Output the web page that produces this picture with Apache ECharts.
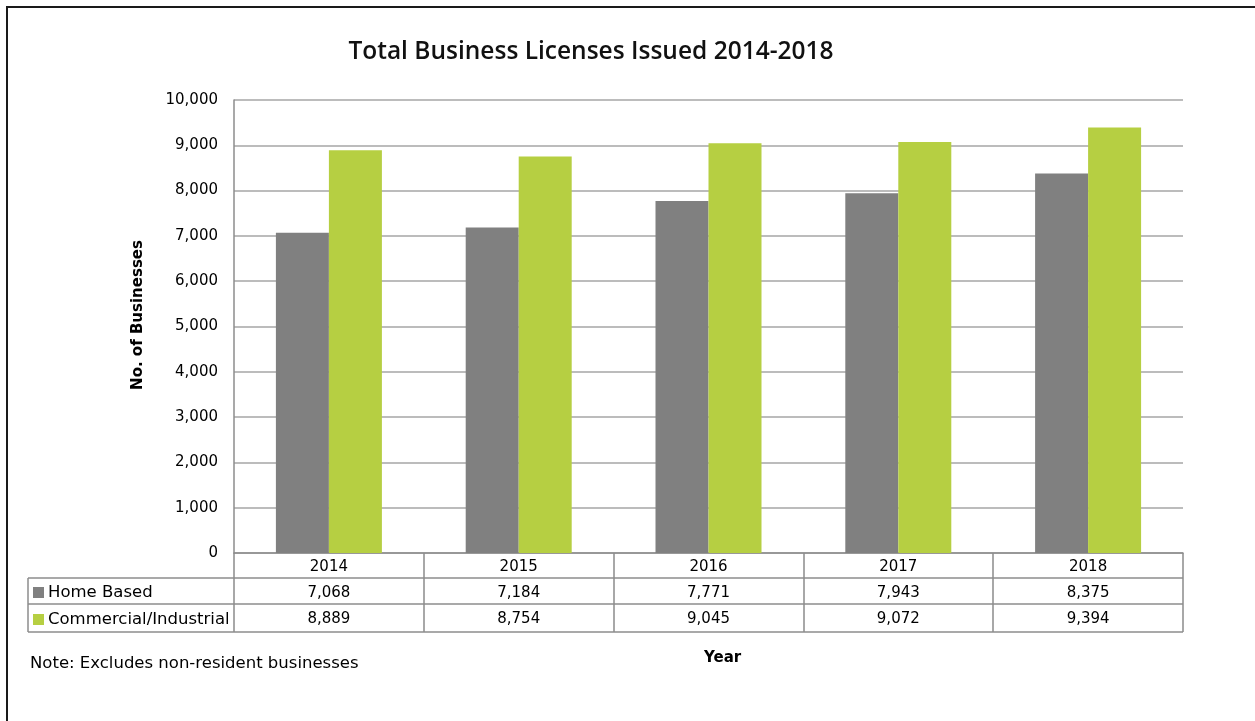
<!DOCTYPE html>
<html>
<head>
<meta charset="utf-8">
<title>Total Business Licenses Issued 2014-2018</title>
<script src="https://cdn.jsdelivr.net/npm/echarts@6/dist/echarts.min.js"></script>
<style>
  html, body { margin: 0; padding: 0; background: #fff; }
  #chart { width: 1255px; height: 721px; }
</style>
</head>
<body>
<div id="chart"></div>
<script>
// Licence counts by year
const years = ['2014', '2015', '2016', '2017', '2018'];
const homeBased = [7068, 7184, 7771, 7943, 8375];
const commercialIndustrial = [8889, 8754, 9045, 9072, 9394];
const yTicks = { min: 0, max: 10000, step: 1000 };

const fmt = v => Number(v).toLocaleString('en-US');
const FONT = '"DejaVu Sans", Verdana, sans-serif';
const TITLE_FONT = '"Open Sans", Arial, sans-serif';
const GRAY = '#808080';
const GREEN = '#b6cf42';
const RULE = '#8c8c8c';

// plot / table geometry
const G = { left: 234, right: 1183, top: 100, bottom: 553 };
const ROW = [553, 578, 604, 632];
const LEGEND_X = 28;

const chart = echarts.init(document.getElementById('chart'), null, { renderer: 'canvas' });

const rowAxis = (values, offset) => ({
  type: 'category',
  position: 'bottom',
  gridIndex: 0,
  offset: offset,
  data: values.map(fmt),
  axisLine: { show: false },
  axisTick: { show: false },
  axisLabel: { color: '#000', fontSize: 15, fontFamily: FONT, margin: 8, interval: 0 },
  splitLine: { show: false }
});

const hLine = (y) => ({
  type: 'line',
  silent: true,
  shape: { x1: LEGEND_X, y1: y, x2: G.right, y2: y },
  style: { stroke: RULE, lineWidth: 1.5 }
});

chart.setOption({
  animation: false,
  backgroundColor: '#fff',
  title: {
    text: 'Total Business Licenses Issued 2014-2018',
    left: 586, top: 35, textAlign: 'center',
    textStyle: { fontFamily: TITLE_FONT, fontSize: 24.5, fontWeight: 600, color: '#111' }
  },
  legend: {
    orient: 'vertical',
    left: 33, top: 584,
    padding: 0,
    itemWidth: 11, itemHeight: 11, itemGap: 10,
    icon: 'rect',
    selectedMode: false,
    textStyle: { fontFamily: FONT, fontSize: 16.5, color: '#000', lineHeight: 16, padding: [0, 0, 0, -1] },
    data: ['Home Based', 'Commercial/Industrial']
  },
  grid: {
    left: G.left, right: 1255 - G.right, top: G.top, bottom: 721 - G.bottom,
    containLabel: false
  },
  xAxis: [
    {
      type: 'category',
      data: years,
      boundaryGap: true,
      axisLine: { show: true, lineStyle: { color: RULE, width: 1.5 } },
      axisTick: { show: true, length: ROW[3] - ROW[0], alignWithLabel: false, lineStyle: { color: RULE, width: 1.5 } },
      axisLabel: { color: '#000', fontSize: 15, fontFamily: FONT, margin: 7, interval: 0 },
      splitLine: { show: false }
    },
    rowAxis(homeBased, ROW[1] - ROW[0]),
    rowAxis(commercialIndustrial, ROW[2] - ROW[0])
  ],
  yAxis: {
    type: 'value',
    min: yTicks.min, max: yTicks.max, interval: yTicks.step,
    axisLine: { show: true, lineStyle: { color: RULE, width: 1.5 } },
    axisTick: { show: false },
    axisLabel: { color: '#000', fontSize: 15, fontFamily: FONT, margin: 16, formatter: fmt },
    splitLine: { show: true, lineStyle: { color: '#a6a6a6', width: 1.5 } }
  },
  series: [
    {
      name: 'Home Based', type: 'bar', xAxisIndex: 0,
      data: homeBased, barWidth: 53, barGap: '0%',
      itemStyle: { color: GRAY }
    },
    {
      name: 'Commercial/Industrial', type: 'bar', xAxisIndex: 0,
      data: commercialIndustrial, barWidth: 53,
      itemStyle: { color: GREEN }
    }
  ],
  graphic: [
    // outer frame (left and top edges)
    {
      type: 'polyline', silent: true,
      shape: { points: [[7, 721], [7, 7], [1255, 7]] },
      style: { stroke: '#1a1a1a', lineWidth: 2, fill: null }
    },
    // data table rules
    hLine(ROW[1]), hLine(ROW[2]), hLine(ROW[3]),
    {
      type: 'line', silent: true,
      shape: { x1: LEGEND_X, y1: ROW[1], x2: LEGEND_X, y2: ROW[3] },
      style: { stroke: RULE, lineWidth: 1.5 }
    },
    // value axis title
    {
      type: 'text', x: 138, y: 315, rotation: Math.PI / 2,
      style: {
        text: 'No. of Businesses', fontFamily: FONT, fontSize: 15, fontWeight: 'bold', fill: '#000',
        align: 'center', verticalAlign: 'middle'
      }
    },
    {
      type: 'text', left: 704, top: 651,
      style: { text: 'Year', fontFamily: FONT, fontSize: 15, fontWeight: 'bold', fill: '#000' }
    },
    {
      type: 'text', left: 30, top: 655,
      style: { text: 'Note: Excludes non-resident businesses', fontFamily: FONT, fontSize: 16.5, fill: '#000' }
    }
  ]
});
</script>
</body>
</html>
